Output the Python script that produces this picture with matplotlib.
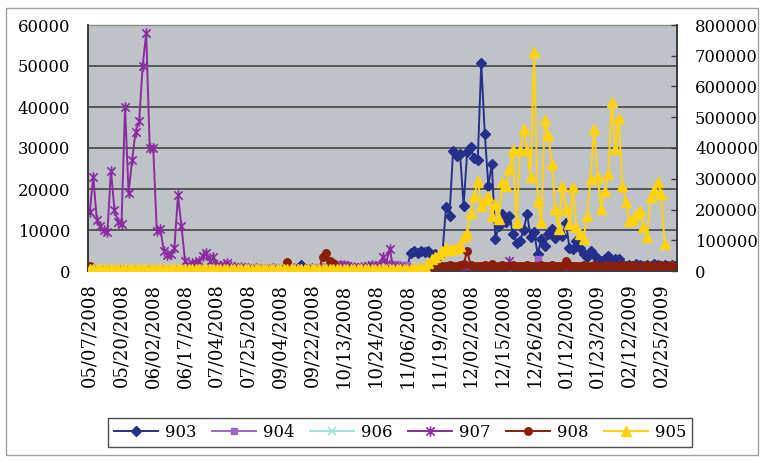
import numpy as np
import matplotlib
matplotlib.use("Agg")
import matplotlib.pyplot as plt
from matplotlib.path import Path
from matplotlib.patches import Rectangle

plt.rcParams["font.family"] = ["DejaVu Serif"]

# Category axis: one label every 9 sampling dates
tick_labels = ["05/07/2008", "05/20/2008", "06/02/2008", "06/17/2008", "07/04/2008",
               "07/25/2008", "09/04/2008", "09/22/2008", "10/13/2008", "10/24/2008",
               "11/06/2008", "11/19/2008", "12/02/2008", "12/15/2008", "12/26/2008",
               "01/12/2009", "01/23/2009", "02/12/2009", "02/25/2009"]
tick_step = 9

# Left-axis series
s903 = [0, 200, 100, 0, 150, 200, 100, 0, 100, 200,
        100, 0, 100, 150, 100, 0, 100, 200, 100, 0,
        100, 150, 100, 0, 100, 200, 100, 0, 100, 100,
        200, 100, 0, 100, 150, 100, 0, 100, 200, 100,
        0, 100, 100, 200, 100, 0, 100, 150, 100, 0,
        100, 200, 100, 0, 100, 100, 200, 100, 300, 600,
        1500, 500, 200, 100, 0, 100, 200, 100, 0, 100,
        100, 200, 100, 0, 100, 150, 100, 0, 100, 200,
        100, 0, 100, 150, 300, 500, 400, 300, 300, 500,
        800, 4500, 4900, 4300, 4900, 4600, 4900, 3800, 4100, 3600,
        4500, 15500, 13500, 29200, 28000, 28500, 15900, 29000, 30200, 27500,
        27000, 50700, 33500, 20800, 26100, 7800, 11000, 14000, 12000, 13500,
        9000, 6900, 7300, 10000, 13900, 8200, 9400, 4100, 7800, 6000,
        9000, 10200, 8000, 9400, 8500, 11800, 5700, 5300, 7300, 5500,
        4100, 3500, 4900, 3800, 2900, 2400, 3000, 3700, 2500, 2900,
        2900, 1800, 1200, 1500, 1300, 1600, 1400, 1200, 1500, 1300,
        1600, 1400, 1300, 1500, 1200, 1400, 1300]

s904 = [0] * 10 + [0] * 10 + [0] * 10 + [0] * 10 + [0] * 10 + [0] * 10 + [0] * 10 + \
       [1500, 1600, 1500, 1400, 0, 0, 0, 0, 0, 0] + \
       [0, 0, 0, 0, 0, 0, 1500, 1600, 1500, 1500] + \
       [1400, 0, 0, 0, 0, 0, 0, 0, 0, 0] + [0] * 10 + [0] * 10 + \
       [0, 0, 0, 0, 0, 0, 0, 2900, 0, 0] + [0] * 10 + [0] * 10 + [0] * 10 + [0] * 7

s906 = [0] * 160 + [0, 0, 0, 0, 0, 300, 1200]

s907 = [14500, 23000, 12500, 11000, 10000, 9500, 24500, 15000, 12000, 11500,
        40000, 19000, 27000, 34000, 36500, 50000, 58000, 30000, 30000, 9800,
        10200, 5000, 4000, 4200, 5500, 18500, 11000, 2500, 1500, 2000,
        2000, 2500, 3700, 4500, 2500, 3300, 1500, 1200, 1500, 2000,
        1200, 1000, 800, 900, 700, 800, 600, 700, 600, 500,
        600, 500, 700, 600, 500, 600, 500, 600, 700, 500,
        600, 500, 600, 700, 500, 600, 800, 700, 600, 900,
        1200, 1500, 1400, 1200, 1000, 900, 800, 900, 1000, 1200,
        1500, 1200, 1500, 3300, 1800, 5400, 1200, 1000, 800, 700,
        600, 500, 500, 400, 400, 300, 300, 200, 200, 200,
        200, 200, 200, 200, 200, 200, 200, 200, 200, 200,
        200, 200, 200, 200, 200, 200, 200, 200, 200, 2400,
        200, 200, 200, 200, 200, 200, 200, 200, 200, 200,
        200, 200, 200, 200, 200, 200, 200, 200, 200, 200,
        200, 200, 200, 200, 200, 200, 200, 200, 200, 200,
        200, 200, 200, 200, 200, 200, 200, 200, 200, 200,
        200, 200, 200, 200, 200, 200, 200]

s908 = [1200, 200, 100, 200, 300, 100, 200, 100, 200, 300,
        100, 200, 100, 200, 100, 300, 200, 100, 200, 100,
        200, 100, 300, 200, 100, 200, 100, 200, 300, 100,
        200, 100, 200, 100, 300, 200, 100, 200, 100, 200,
        100, 300, 200, 100, 200, 100, 200, 300, 100, 200,
        100, 200, 100, 300, 200, 400, 2300, 400, 200, 100,
        200, 100, 300, 200, 100, 300, 3300, 4500, 2500, 2000,
        600, 200, 100, 200, 300, 100, 200, 100, 200, 300,
        100, 200, 100, 200, 100, 300, 200, 100, 200, 100,
        200, 100, 300, 200, 100, 200, 300, 500, 1000, 1200,
        1300, 1100, 1400, 1200, 1300, 1500, 1600, 4900, 1400, 1200,
        1300, 1100, 1400, 1200, 1800, 1300, 1100, 1400, 1200, 1300,
        1500, 1200, 1300, 1100, 1400, 1200, 1300, 1100, 1400, 1200,
        1300, 1500, 1200, 1300, 1100, 2500, 1400, 1200, 1300, 1100,
        1400, 1200, 1300, 1500, 1200, 1300, 1100, 1400, 1200, 1300,
        1100, 1400, 1200, 1300, 1500, 1200, 1300, 1100, 1400, 1200,
        1300, 1100, 1400, 1200, 1300, 1500, 1200]

# Right-axis series
s905 = [6000, 5000, 7000, 6000, 5500, 6500, 8000, 6000, 5000, 7000,
        6500, 5500, 6000, 7000, 5000, 6000, 6500, 5500, 7000, 6000,
        5000, 6500, 6000, 5500, 7000, 6000, 5000, 6500, 6000, 5500,
        7000, 6000, 5000, 6500, 6000, 5500, 7000, 6000, 5000, 6500,
        6000, 5500, 7000, 6000, 5000, 6500, 6000, 5500, 7000, 6000,
        5000, 6500, 6000, 5500, 7000, 6000, 5000, 6500, 6000, 5500,
        7000, 6000, 5000, 6500, 6000, 5500, 7000, 6000, 5000, 6500,
        6000, 5500, 7000, 6000, 5000, 6500, 6000, 5500, 7000, 6000,
        5000, 6500, 6000, 5500, 7000, 6000, 5000, 6500, 6000, 5500,
        7000, 8000, 9000, 10000, 9000, 12000, 27000, 39000, 45000, 55000,
        65000, 76000, 68000, 72000, 76000, 80000, 109000, 125000, 190000, 245000,
        294000, 212000, 230000, 245000, 180000, 218000, 169000, 289000, 278000, 332000,
        392000, 158000, 392000, 463000, 392000, 305000, 713000, 229000, 158000, 490000,
        441000, 349000, 202000, 136000, 278000, 202000, 153000, 272000, 142000, 120000,
        104000, 180000, 300000, 463000, 305000, 202000, 261000, 316000, 550000, 398000,
        496000, 278000, 223000, 163000, 170000, 185000, 196000, 142000, 109000, 240000,
        265000, 289000, 250000, 87000, None, None, None]

left_series = [
    ("903", s903, "#25308C", "D", 5.0),
    ("904", s904, "#9966CC", "s", 4.6),
    ("906", s906, "#9FE3DC", "x", 5.5),
    ("907", s907, "#8A2BA0", "star", 7.5),
    ("908", s908, "#8B1E08", "o", 5.4),
]
right_series = ("905", s905, "#FFD20A", "^", 7.0)

# Asterisk-style marker: an X crossed by a vertical stroke
star_marker = Path([(-1, -1), (1, 1), (-1, 1), (1, -1), (0, -1.25), (0, 1.25)],
                   [Path.MOVETO, Path.LINETO, Path.MOVETO, Path.LINETO,
                    Path.MOVETO, Path.LINETO])

FS = 11.8

n = len(s903)
x = np.arange(n)

fig = plt.figure(figsize=(7.64, 4.61), dpi=100)
fig.patch.set_facecolor("white")
ax = fig.add_axes([88 / 764, 1 - 271 / 461, (677 - 88) / 764, (271 - 25) / 461])
ax.set_facecolor("#BFC3C7")

handles = []
for z, (name, vals, color, mk, ms) in enumerate(left_series):
    y = np.array([np.nan if v is None else v for v in vals], dtype=float)
    if mk == "star":
        ln, = ax.plot(x, y, color=color, lw=1.4, marker=star_marker, ms=ms,
                      mew=1.2, mec=color, mfc="none", zorder=3 + z, label=name)
    elif mk == "x":
        ln, = ax.plot(x, y, color=color, lw=1.4, marker="x", ms=ms, mew=1.2,
                      zorder=3 + z, label=name)
    else:
        ln, = ax.plot(x, y, color=color, lw=1.4, marker=mk, ms=ms, mec=color,
                      mfc=color, zorder=3 + z, label=name)
    handles.append(ln)

ax.set_xlim(-0.5, n - 0.5)
ax.set_ylim(0, 60000)
ax.set_yticks(np.arange(0, 60001, 10000))
ax.yaxis.grid(True, color="#4F4F4F", lw=1.3)
ax.set_axisbelow(True)
ax.set_xticks(np.arange(0, tick_step * len(tick_labels), tick_step))
ax.set_xticklabels(tick_labels, rotation=90, fontsize=13)
ax.tick_params(axis="x", length=0, pad=9)
ax.tick_params(axis="y", length=0, pad=13, labelsize=FS)
for side in ("left", "bottom", "right"):
    ax.spines[side].set_color("#3A3A3A")
    ax.spines[side].set_linewidth(1.2)
ax.spines["top"].set_color("#8C8C8C")
ax.spines["top"].set_linewidth(1.0)

ax2 = ax.twinx()
name, vals, color, mk, ms = right_series
y2 = np.array([np.nan if v is None else v for v in vals], dtype=float)
ln2, = ax2.plot(x, y2, color=color, lw=1.4, marker=mk, ms=ms, mec=color,
                mfc=color, zorder=3, label=name)
handles.append(ln2)
ax2.set_ylim(0, 800000)
ax2.set_yticks(np.arange(0, 800001, 100000))
ax2.tick_params(axis="y", direction="in", length=4, width=1.0, color="#3A3A3A",
                pad=13, labelsize=FS)
for side in ("left", "bottom", "right"):
    ax2.spines[side].set_color("#3A3A3A")
    ax2.spines[side].set_linewidth(1.2)
ax2.spines["top"].set_visible(False)

leg = fig.legend(handles=handles, labels=[h.get_label() for h in handles],
                 loc="center", bbox_to_anchor=(400 / 764, 1 - 432.5 / 461),
                 ncol=6, fontsize=FS, frameon=True, fancybox=False,
                 edgecolor="#222222", handlelength=2.7, handletextpad=0.43,
                 columnspacing=0.93, borderpad=0.35, borderaxespad=0)
leg.get_frame().set_linewidth(1.0)

# Outer chart border
fig.add_artist(Rectangle((6 / 764, 1 - 455 / 461), (758 - 6) / 764, (455 - 8) / 461,
                         transform=fig.transFigure, fill=False,
                         edgecolor="#A0A0A0", lw=1.0))

fig.savefig("out.png", dpi=100)
